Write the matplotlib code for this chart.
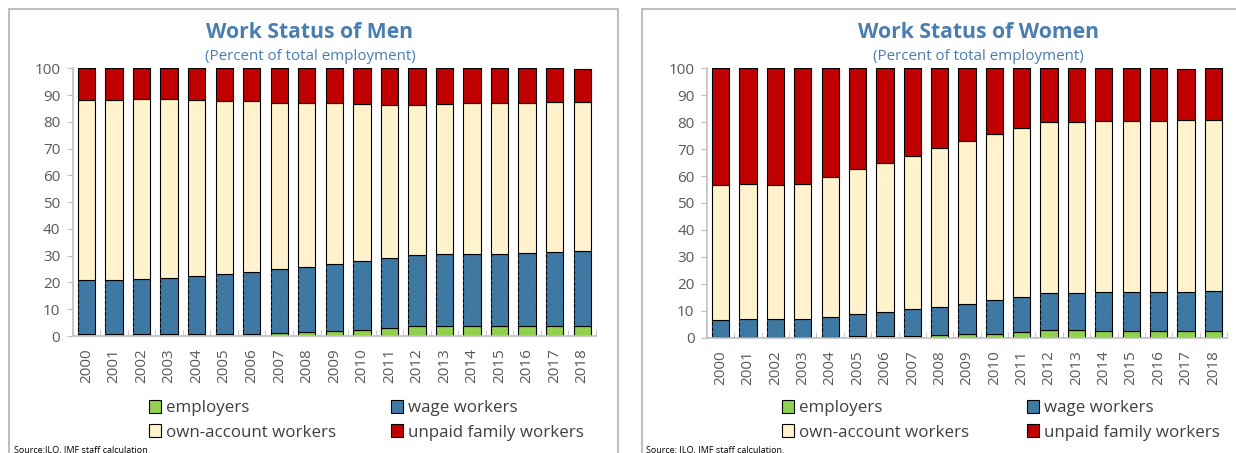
import numpy as np
import matplotlib.pyplot as plt
from matplotlib.patches import Patch, Rectangle

plt.rcParams['font.family'] = ['Open Sans', 'DejaVu Sans']
plt.rcParams['hatch.linewidth'] = 0.6

years = [str(y) for y in range(2000, 2019)]

# men, percent of total employment
men_employers = [0.6, 0.6, 0.6, 0.6, 0.6, 0.75, 0.8, 1.0, 1.5, 1.9, 2.2, 3.0,
                 3.6, 3.6, 3.6, 3.6, 3.6, 3.6, 3.6]
men_wage = [20.2, 20.4, 20.7, 20.9, 21.7, 22.45, 23.1, 23.9, 24.4, 24.9, 25.7, 26.0,
            26.7, 26.9, 27.0, 27.2, 27.3, 27.7, 28.0]
men_own = [67.4, 67.2, 67.1, 66.9, 65.9, 64.7, 63.8, 62.3, 61.0, 60.1, 58.8, 57.3,
           56.0, 56.0, 56.3, 56.1, 56.3, 56.1, 55.8]
men_unpaid = [11.8, 11.8, 11.6, 11.6, 11.8, 12.1, 12.3, 12.8, 13.1, 13.1, 13.3, 13.7,
              13.7, 13.5, 13.1, 13.1, 12.8, 12.6, 12.2]

# women, percent of total employment
women_employers = [0.1, 0.1, 0.1, 0.1, 0.1, 0.5, 0.5, 0.7, 1.0, 1.2, 1.4, 2.0,
                   2.7, 2.7, 2.5, 2.5, 2.5, 2.5, 2.5]
women_wage = [6.6, 6.9, 6.9, 6.9, 7.7, 8.3, 9.1, 9.9, 10.5, 11.4, 12.5, 13.2,
              13.9, 13.9, 14.4, 14.4, 14.6, 14.6, 14.9]
women_own = [49.9, 49.9, 49.6, 49.9, 52.0, 53.7, 55.4, 56.8, 58.8, 60.3, 61.6, 62.5,
             63.5, 63.6, 63.5, 63.5, 63.3, 63.6, 63.5]
women_unpaid = [43.4, 43.1, 43.4, 43.1, 40.2, 37.5, 35.0, 32.6, 29.7, 27.1, 24.5, 22.3,
                19.9, 19.8, 19.6, 19.6, 19.6, 19.0, 19.1]

c_emp = '#92D050'
c_wage = '#3F7BA6'
c_own = '#FFF2CC'
c_unpaid = '#C00000'
c_title = '#4A7DB0'
c_text = '#595959'

fig = plt.figure(figsize=(12.36, 4.53), dpi=100)
W, H = 1236, 453


def px(x, y):
    return x / W, 1 - y / H


def draw_panel(ax, series):
    x = np.arange(len(years))
    bottom = np.zeros(len(years))
    colors = [c_emp, c_wage, c_own, c_unpaid]
    for vals, col in zip(series, colors):
        ax.bar(x, vals, 0.63, bottom=bottom, color=col, edgecolor='black', linewidth=0.8)
        if col == c_wage:
            # faint diagonal texture on the wage bars
            ax.bar(x, vals, 0.63, bottom=bottom, fill=False, hatch='//////',
                   edgecolor='#3A7299', linewidth=0)
        bottom += np.array(vals)
    ax.set_xlim(-0.5, 18.5)
    ax.set_ylim(0, 100)
    ax.set_yticks(range(0, 101, 10))
    ax.set_xticks(x)
    ax.set_xticklabels(years, rotation=90)
    ax.set_xticks(np.arange(-0.5, 19, 1), minor=True)
    ax.tick_params(axis='x', which='major', length=0, pad=9, labelsize=11, colors=c_text)
    ax.tick_params(axis='x', which='minor', length=4, color='#BFBFBF', direction='in')
    ax.tick_params(axis='y', length=4, color='#BFBFBF', labelsize=11, colors=c_text, pad=5)
    for s in ['top', 'right']:
        ax.spines[s].set_visible(False)
    for s in ['left', 'bottom']:
        ax.spines[s].set_color('#BFBFBF')
        ax.spines[s].set_linewidth(1.2)


ax1 = fig.add_axes([72.7 / W, 1 - 336 / H, (596 - 72.7) / W, (336 - 68.3) / H])
draw_panel(ax1, [men_employers, men_wage, men_own, men_unpaid])
ax2 = fig.add_axes([707 / W, 1 - 337.7 / H, (1227 - 707) / W, (337.7 - 68.3) / H])
draw_panel(ax2, [women_employers, women_wage, women_own, women_unpaid])

# panel frames
for x0, x1 in [(8.7, 618), (641.7, 1250)]:
    fig.patches.append(Rectangle(px(x0, 470), (x1 - x0) / W, (470 - 9) / H,
                                 transform=fig.transFigure, fill=False,
                                 edgecolor='#BFBFBF', linewidth=1.5))

for cx, name in [(310, 'Work Status of Men'), (978, 'Work Status of Women')]:
    fig.text(*px(cx, 32), name, ha='center', va='center', fontsize=15.2,
             fontweight='bold', color=c_title)
    fig.text(*px(cx, 57), '(Percent of total employment)', ha='center', va='center',
             fontsize=10.9, color=c_title)

h_emp = Patch(facecolor=c_emp, edgecolor='black', linewidth=0.8)
h_wage = Patch(facecolor=c_wage, edgecolor='black', linewidth=0.8)
h_own = Patch(facecolor=c_own, edgecolor='black', linewidth=0.8)
h_unpaid = Patch(facecolor=c_unpaid, edgecolor='black', linewidth=0.8)

for x_a, x_b in [(145, 387), (778, 1023)]:
    for xl, hs, labs in [(x_a, [h_emp, h_own], ['employers', 'own-account workers']),
                         (x_b, [h_wage, h_unpaid], ['wage workers', 'unpaid family workers'])]:
        fig.legend(hs, labs, loc='upper left', bbox_to_anchor=px(xl - 8, 388),
                   frameon=False, fontsize=12.2, labelcolor='#404040',
                   handlelength=0.7, handleheight=0.8, handletextpad=0.3,
                   labelspacing=0.48, borderpad=0.2)

fig.text(*px(14, 455), 'Source:ILO, IMF staff calculation', fontsize=6.5,
         color='black', va='bottom')
fig.text(*px(646, 455), 'Source: ILO, IMF staff calculation.', fontsize=6.5,
         color='black', va='bottom')

fig.savefig('out.png', dpi=100)
